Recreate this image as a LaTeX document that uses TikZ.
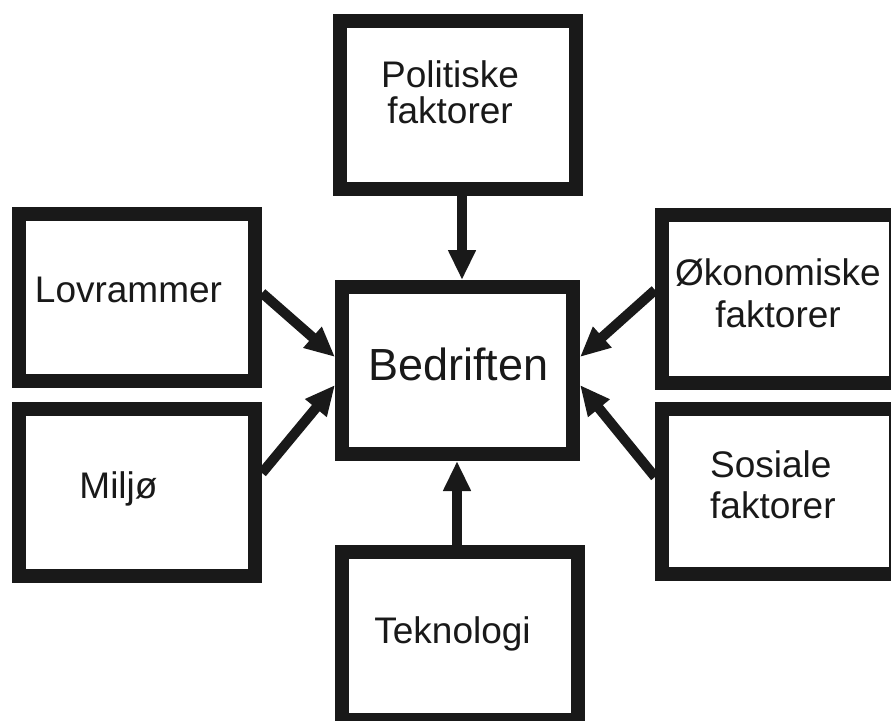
\documentclass[tikz,border=0pt]{standalone}
\usepackage{fontspec}
\setmainfont{Liberation Sans}
\usetikzlibrary{arrows.meta}

\tikzset{
  faktorbox/.style={draw=black!90, fill=white, line width=14pt, minimum width=236pt, minimum height=168pt, inner sep=0pt},
  faktortxt/.style={inner sep=0pt, anchor=base, font=\fontsize{37}{41}\selectfont, text=black!90},
  pil/.style={draw=black!90, line width=10pt, -{Triangle[length=30pt,width=26pt]}}
}

\begin{document}
\begin{tikzpicture}[x=1pt,y=1pt,yscale=-1,xscale=1]
\useasboundingbox (0,0) rectangle (891,720);

%Boxes
\node[faktorbox] (pol) at (457.5,104.5) {};
\node[faktorbox, minimum height=167.5pt] (lov) at (137,297.5) {};
\node[faktorbox, minimum height=167.5pt] (mil) at (137,492.5) {};
\node[faktorbox, minimum width=231pt, minimum height=167pt] (bed) at (457.5,370.5) {};
\node[faktorbox, minimum width=234pt] (oko) at (779,299) {};
\node[faktorbox, minimum width=234pt, minimum height=165pt] (sos) at (779,491.5) {};
\node[faktorbox] (tek) at (460,636) {};

%Texts (base = last line)
\node[faktortxt, align=center, font=\fontsize{37}{36}\selectfont] (pol-t) at (450,123) {Politiske\\faktorer};
\node[faktortxt] (lov-t) at (128.5,302) {Lovrammer};
\node[faktortxt] (mil-t) at (118.5,498) {Miljø};
\node[faktortxt, font=\fontsize{45}{48}\selectfont] (bed-t) at (458.5,380) {Bedriften};
\node[faktortxt, align=center, font=\fontsize{37}{42}\selectfont] (oko-t) at (778,327) {Økonomiske\\faktorer};
\node[faktortxt, align=left, anchor=base west] (sos-t) at (710,518) {Sosiale\\faktorer};
\node[faktortxt] (tek-t) at (452.5,643) {Teknologi};

%Arrows
\draw[pil] ([xshift=4.5pt]pol.south) -- ([xshift=4.5pt]bed.north);
\draw[pil] ([yshift=-4.5pt]lov.east) -- ([yshift=-13.5pt]bed.west);
\draw[pil] ([yshift=-19.5pt]mil.east) -- ([yshift=14.5pt]bed.west);
\draw[pil] ([yshift=-9pt]oko.west) -- ([yshift=-13.5pt]bed.east);
\draw[pil] ([yshift=-14.5pt]sos.west) -- ([yshift=14.5pt]bed.east);
\draw[pil] ([xshift=-3pt]tek.north) -- ([xshift=-0.5pt]bed.south);

\end{tikzpicture}
\end{document}
